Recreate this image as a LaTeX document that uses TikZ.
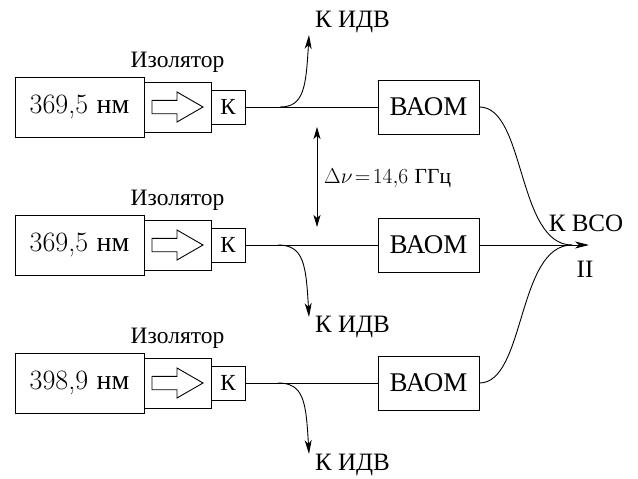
\RequirePackage{fix-cm}
\documentclass[tikz,border=0pt]{standalone}
\usepackage{fontspec}
\newfontfamily\cyr{Liberation Serif}
\usetikzlibrary{arrows.meta}
\tikzset{
  box/.style={draw, line width=0.9pt, inner sep=0pt, anchor=center},
  laser/.style={box, minimum width=129pt, minimum height=60pt, font=\fontsize{28}{32}\selectfont},
  iso/.style={box, minimum width=67pt, minimum height=50pt},
  kbox/.style={box, minimum width=34pt, minimum height=34pt, font=\cyr\fontsize{23}{26}\selectfont},
  baom/.style={box, minimum width=101pt, minimum height=54pt, font=\cyr\fontsize{27}{30}\selectfont},
  isolabel/.style={font=\cyr\fontsize{23.5}{26}\selectfont, inner sep=0pt},
  outlabel/.style={font=\cyr\fontsize{25}{28}\selectfont, inner sep=0pt},
  conn/.style={line width=0.9pt},
  arr/.style={conn, -{Stealth[length=14pt,width=7pt,inset=4pt]}},
  darr/.style={conn, {Stealth[length=12pt,width=7pt,inset=3pt]}-{Stealth[length=12pt,width=7pt,inset=3pt]}},
  hollow/.style={line width=0.9pt, draw}
}
\begin{document}
\begin{tikzpicture}[x=1pt,y=-1pt]
\useasboundingbox (0,0) rectangle (638,479);
% rows
\foreach \r/\yc/\lab in {1/107/{369,5 \cyr нм},2/245/{369,5 \cyr нм},3/383/{398,9 \cyr нм}}{
  \node[laser] (las\r) at (79.5,\yc) {\lab};
  \node[iso] (iso\r) at (177.5,\yc) {};
  \node[kbox] (k\r) at (228,\yc) {К};
  \node[baom] (b\r) at (428.5,\yc) {ВАОМ};
  \node[isolabel] (il\r) at (177.5,\yc-45) {Изолятор};
  \draw[hollow] ([shift={(-25.5,-6.7)}]iso\r.center) -- ([shift={(-0.5,-6.7)}]iso\r.center)
     -- ([shift={(-0.5,-15)}]iso\r.center) -- ([shift={(25.5,0)}]iso\r.center)
     -- ([shift={(-0.5,15)}]iso\r.center) -- ([shift={(-0.5,6.7)}]iso\r.center)
     -- ([shift={(-25.5,6.7)}]iso\r.center) -- cycle;
  \draw[conn] (k\r.east) -- (b\r.west);
}
% branches to IDV
\coordinate (s1) at (280,107); \coordinate (t1) at (309,35);
\coordinate (s2) at (278,245); \coordinate (t2) at (309,317);
\coordinate (s3) at (278,383); \coordinate (t3) at (309,454);
\draw[arr] (s1) .. controls +(24,0) and +(-3,52) .. (t1);
\draw[arr] (s2) .. controls +(26,0) and +(-3,-52) .. (t2);
\draw[arr] (s3) .. controls +(26,0) and +(-3,-52) .. (t3);
\node[outlabel, anchor=west] (o1) at (315,22) {К ИДВ};
\node[outlabel, anchor=west] (o2) at (315,327) {К ИДВ};
\node[outlabel, anchor=west] (o3) at (315,465) {К ИДВ};
% merge
\coordinate (m) at (572,245);
\coordinate (tip) at (589,245);
\draw[conn] (b1.east) .. controls +(46,0) and +(-55,0) .. (m);
\draw[conn] (b3.east) .. controls +(46,0) and +(-55,0) .. (m);
\draw[arr] (b2.east) -- (tip);
\node[outlabel] (vso) at (586,223) {К ВСО};
\node[outlabel] (ii) at (585,269) {II};
% delta nu
\coordinate (d1) at (317,127);
\coordinate (d2) at (317,227);
\draw[darr] (d1) -- (d2);
\node[anchor=west, inner sep=0pt, font=\fontsize{21.5}{24}\selectfont] (dn) at (324,178) {$\Delta\nu\!=\!14{,}6$ {\cyr ГГц}};
\end{tikzpicture}
\end{document}
